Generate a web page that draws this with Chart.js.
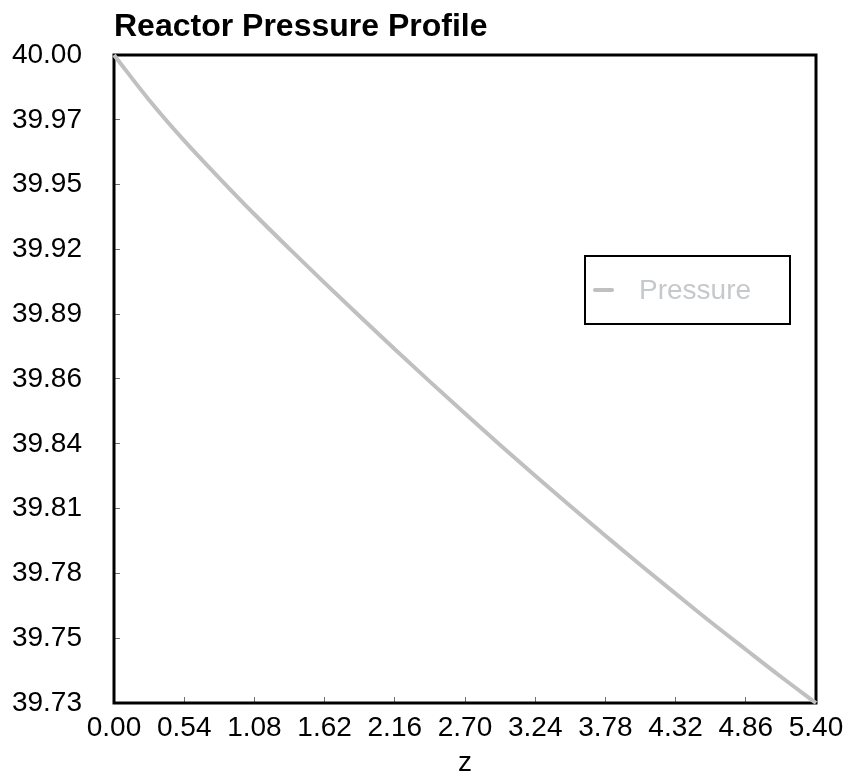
<!DOCTYPE html>
<html>
<head>
<meta charset="utf-8">
<title>Reactor Pressure Profile</title>
<script src="https://cdn.jsdelivr.net/npm/chart.js@4.4.1/dist/chart.umd.min.js"></script>
<style>
    html, body { margin: 0; padding: 0; background: #ffffff; }
    #wrap { width: 862px; height: 776px; }
</style>
</head>
<body>
<div id="wrap"><canvas id="pressureChart" width="862" height="776"></canvas></div>
<script>
// Axial position along the reactor (z) and the pressure
const zValues = [0.00, 0.27, 0.54, 0.81, 1.08, 1.35, 1.62, 1.89, 2.16, 2.43, 2.70,
                 2.97, 3.24, 3.51, 3.78, 4.05, 4.32, 4.59, 4.86, 5.13, 5.40];
const pressureValues = [40.0000, 39.9810, 39.9638, 39.9480, 39.9327, 39.9181, 39.9037,
                        39.8896, 39.8757, 39.8620, 39.8485, 39.8352, 39.8222, 39.8094,
                        39.7969, 39.7845, 39.7724, 39.7604, 39.7488, 39.7373, 39.7262];

// Axis ranges and tick counts
const xRange = [0, 5.40];
const yRange = [39.7262, 40.00];
const tickCount = 11;

const seriesName = 'Pressure';
const chartTitle = 'Reactor Pressure Profile';
const xAxisTitle = 'z';

const FONT = '"Liberation Sans", Arial, sans-serif';

document.addEventListener('DOMContentLoaded', function() {
    initPressureChart();
});

// Black frame round the plot area
const plotFrame = {
    id: 'plotFrame',
    beforeDatasetsDraw(chart) {
        const { ctx, chartArea } = chart;
        ctx.save();
        ctx.strokeStyle = '#000000';
        ctx.lineWidth = 3;
        ctx.strokeRect(chartArea.left, chartArea.top,
                       chartArea.right - chartArea.left, chartArea.bottom - chartArea.top);
        ctx.restore();
    }
};

// Boxed legend sitting inside the plot, right side
const boxedLegend = {
    id: 'boxedLegend',
    afterDatasetsDraw(chart) {
        const { ctx, chartArea } = chart;
        const ds = chart.data.datasets[0];
        const x = chartArea.right - 231;
        const y = chartArea.top + 201;
        const w = 205, h = 68;

        ctx.save();
        ctx.fillStyle = '#ffffff';
        ctx.fillRect(x, y, w, h);
        ctx.strokeStyle = '#000000';
        ctx.lineWidth = 2;
        ctx.strokeRect(x, y, w, h);

        ctx.strokeStyle = ds.borderColor;
        ctx.lineWidth = 4;
        ctx.lineCap = 'round';
        ctx.beginPath();
        ctx.moveTo(x + 10, y + 34);
        ctx.lineTo(x + 27, y + 34);
        ctx.stroke();

        ctx.fillStyle = '#c6c9cc';
        ctx.font = '28px ' + FONT;
        ctx.textBaseline = 'middle';
        ctx.textAlign = 'left';
        ctx.fillText(ds.label, x + 54, y + 35);
        ctx.restore();
    }
};

function initPressureChart() {
    const ctx = document.getElementById('pressureChart');
    if (!ctx) return;

    const points = zValues.map((z, i) => ({ x: z, y: pressureValues[i] }));

    new Chart(ctx, {
        type: 'line',
        data: {
            datasets: [{
                label: seriesName,
                data: points,
                borderColor: '#c0c0c0',
                borderWidth: 4,
                pointRadius: 0,
                cubicInterpolationMode: 'monotone',
                fill: false,
                clip: false
            }]
        },
        options: {
            responsive: false,
            animation: false,
            devicePixelRatio: 1,
            layout: {
                padding: { left: 0, right: 46, top: 0, bottom: 0 }
            },
            plugins: {
                legend: { display: false },
                tooltip: { enabled: false },
                title: {
                    display: true,
                    text: chartTitle,
                    align: 'start',
                    fullSize: false,
                    color: '#000000',
                    font: { family: FONT, size: 32, weight: 'bold' },
                    padding: { top: 8, bottom: 8.6 }
                }
            },
            scales: {
                x: {
                    type: 'linear',
                    min: xRange[0],
                    max: xRange[1],
                    border: { display: false },
                    grid: {
                        drawOnChartArea: false,
                        drawTicks: true,
                        tickLength: -6,
                        color: '#707070',
                        lineWidth: 1
                    },
                    ticks: {
                        count: tickCount,
                        autoSkip: false,
                        maxRotation: 0,
                        padding: 14,
                        color: '#000000',
                        font: { family: FONT, size: 28 },
                        callback: function(value) {
                            return value.toFixed(2);
                        }
                    },
                    title: {
                        display: true,
                        text: xAxisTitle,
                        color: '#000000',
                        font: { family: FONT, size: 28 },
                        padding: { top: 0, bottom: -4 }
                    },
                    afterFit: function(scale) {
                        scale.height = 73;
                    }
                },
                y: {
                    type: 'linear',
                    min: yRange[0],
                    max: yRange[1],
                    border: { display: false },
                    grid: {
                        drawOnChartArea: false,
                        drawTicks: true,
                        tickLength: -6,
                        color: '#707070',
                        lineWidth: 1
                    },
                    ticks: {
                        count: tickCount,
                        autoSkip: false,
                        padding: 38,
                        color: '#000000',
                        font: { family: FONT, size: 28 },
                        callback: function(value) {
                            return value.toFixed(2);
                        }
                    },
                    afterFit: function(scale) {
                        scale.width = 114;
                    }
                }
            }
        },
        plugins: [plotFrame, boxedLegend]
    });
}
</script>
</body>
</html>
